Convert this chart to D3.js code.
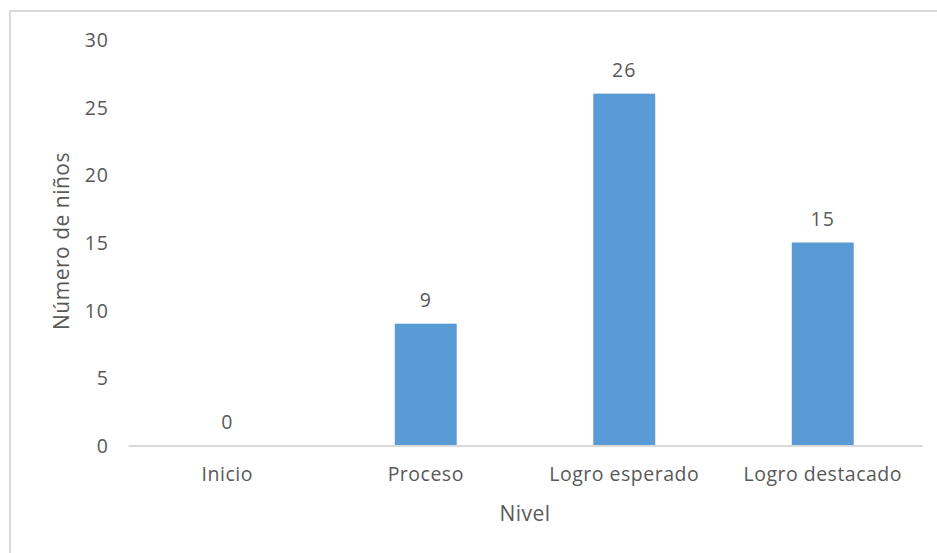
<!DOCTYPE html>
<html>
<head>
<meta charset="utf-8">
<script src="https://cdn.jsdelivr.net/npm/d3@7"></script>
<style>
  html, body { margin: 0; padding: 0; background: #fff; }
  svg { display: block; }
  text { font-family: "Open Sans", sans-serif; fill: #595959; }
</style>
</head>
<body>
<svg id="chart" width="937" height="553"></svg>
<script>
// Distribución de niños por nivel de logro
const categories = ["Inicio", "Proceso", "Logro esperado", "Logro destacado"];
const values = [0, 9, 26, 15];
const yTicks = [0, 5, 10, 15, 20, 25, 30];
const yTitle = "Número de niños";
const xTitle = "Nivel";

const FONT = "'Open Sans', sans-serif";
const svg = d3.select("#chart");
const W = 937, H = 553;

// chart frame (runs off the right and bottom edges)
svg.append("rect")
  .attr("x", 10).attr("y", 11)
  .attr("width", W + 20).attr("height", H + 20)
  .attr("fill", "#fff")
  .attr("stroke", "#d9d9d9")
  .attr("stroke-width", 2);

const plot = { left: 128, right: 922, top: 39.5, bottom: 445.5 };

const x = d3.scaleBand()
  .domain(categories)
  .range([plot.left, plot.right])
  .paddingInner(0.688)
  .paddingOuter(0.344);

const y = d3.scaleLinear()
  .domain([0, 30])
  .range([plot.bottom, plot.top]);

// y tick labels (no axis line, no gridlines)
const yAxis = d3.axisLeft(y).tickValues(yTicks).tickSize(0).tickPadding(0);
const gy = svg.append("g").attr("transform", `translate(109,0)`).call(yAxis);
gy.select(".domain").remove();
gy.selectAll("text")
  .attr("font-size", 19.5)
  .attr("dy", "0.36em")
  .style("letter-spacing", "1px")
  .style("font-family", FONT)
  .attr("fill", "#595959");

// bars
svg.append("g").selectAll("rect")
  .data(values)
  .join("rect")
  .attr("x", (d, i) => x(categories[i]))
  .attr("y", d => y(d))
  .attr("width", x.bandwidth())
  .attr("height", d => y(0) - y(d))
  .attr("fill", "#5b9bd5");

// category axis along the baseline
const xAxis = d3.axisBottom(x).tickSize(0).tickPadding(22);
const gx = svg.append("g").attr("transform", `translate(0,${plot.bottom})`).call(xAxis);
gx.select(".domain").attr("stroke", "#d9d9d9").attr("stroke-width", 2);
gx.selectAll("text")
  .attr("font-size", 19.5)
  .style("letter-spacing", "0.5px")
  .style("font-family", FONT)
  .attr("fill", "#595959");

// value labels above each bar
svg.append("g").selectAll("text")
  .data(values)
  .join("text")
  .attr("x", (d, i) => x(categories[i]) + x.bandwidth() / 2)
  .attr("y", d => y(d) - 17)
  .attr("text-anchor", "middle")
  .attr("font-size", 19.5)
  .style("letter-spacing", "1px")
  .text(d => d);

// axis titles
svg.append("text")
  .attr("transform", `translate(69,241) rotate(-90)`)
  .attr("text-anchor", "middle")
  .attr("font-size", 21)
  .style("letter-spacing", "0.5px")
  .text(yTitle);

svg.append("text")
  .attr("x", (plot.left + plot.right) / 2)
  .attr("y", 521)
  .attr("text-anchor", "middle")
  .attr("font-size", 21)
  .style("letter-spacing", "0.5px")
  .text(xTitle);
</script>
</body>
</html>
